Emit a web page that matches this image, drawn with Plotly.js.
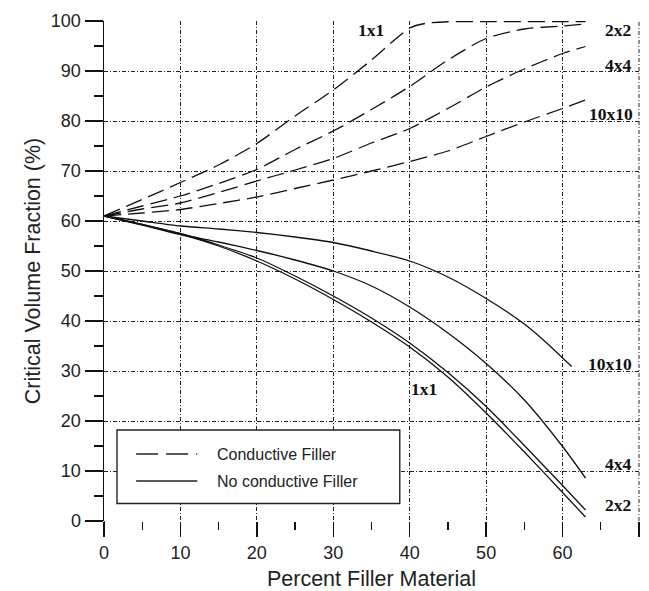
<!DOCTYPE html>
<html>
<head>
<meta charset="utf-8">
<script src="https://cdn.plot.ly/plotly-3.0.1.min.js"></script>
<style>html,body{margin:0;padding:0;background:#fff;}#chart{width:649px;height:591px;}</style>
</head>
<body>
<div id="chart"></div>
<script>
// Conductive filler (dashed)
const xCond1 = [0, 5, 10, 15, 20, 25, 30, 35, 38, 40, 42, 45, 50, 55, 60, 63];
const cond1x1 = [61, 64.3, 67.7, 71.2, 75.5, 81, 86.2, 92.2, 96.2, 98.6, 99.5, 99.85, 99.9, 99.9, 99.9, 99.9];
const xCond = [0, 5, 10, 15, 20, 25, 30, 35, 40, 45, 50, 55, 60, 63];
const cond2x2 = [61, 63, 65, 67.5, 70.3, 74.3, 78, 82.3, 86.9, 92.2, 96.5, 98.4, 99, 99.4];
const cond4x4 = [61, 62.4, 63.6, 65.7, 68, 70.2, 72.5, 75.6, 78.5, 82.5, 86.8, 90.4, 93.5, 94.9];
const cond10x10 = [61, 61.6, 62.3, 63.5, 64.8, 66.5, 68.2, 70, 71.9, 74, 76.9, 79.8, 82.5, 84.2];

// No conductive filler (solid)
const xNon = [0, 5, 10, 15, 20, 25, 30, 35, 40, 45, 50, 55, 60, 63];
const non1x1 = [61, 59.3, 57.4, 55, 52, 48.4, 44.3, 39.8, 34.8, 28.8, 21.6, 13.8, 5.7, 0.8];
const non2x2 = [61, 59.3, 57.5, 55.2, 52.6, 49, 45, 40.6, 35.6, 29.7, 22.9, 15.1, 7.1, 2.2];
const non4x4 = [61, 59.2, 57.3, 55.8, 54.1, 52.2, 50, 47, 42.8, 37.6, 31.5, 24.2, 14.9, 8.6];
const xNon10 = [0, 5, 10, 15, 20, 25, 30, 35, 40, 45, 50, 55, 58, 60, 61.2];
const non10x10 = [61, 60, 59, 58.4, 57.7, 56.8, 55.7, 54, 52, 48.8, 44.5, 39.4, 35.5, 32.6, 30.9];

// Curve labels
const labelText = ["1x1", "2x2", "4x4", "10x10", "1x1", "10x10", "4x4", "2x2"];
const labelX = [34.9, 67.3, 67.3, 66.3, 41.9, 66.2, 67.3, 67.3];
const labelY = [98.2, 98.2, 91.3, 81.5, 26.4, 31.5, 11.5, 3.2];

const legendNames = ["Conductive Filler", "No conductive Filler"];

const dashStyle = '17px,7px';
const lw = 1.3;
function tr(x, y, dash) {
  return {x: x, y: y, mode: 'lines', type: 'scatter', showlegend: false,
    line: {color: '#111', width: lw, dash: dash, shape: 'spline', smoothing: 0.7}, hoverinfo: 'skip'};
}
const data = [
  tr(xCond1, cond1x1, dashStyle),
  tr(xCond, cond2x2, dashStyle),
  tr(xCond, cond4x4, dashStyle),
  tr(xCond, cond10x10, dashStyle),
  tr(xNon, non1x1, 'solid'),
  tr(xNon, non2x2, 'solid'),
  tr(xNon, non4x4, 'solid'),
  tr(xNon10, non10x10, 'solid')
];

const serifBold = {family: '"Liberation Serif", "DejaVu Serif", serif', size: 17.5, color: '#111'};
const annotations = labelText.map((t, i) => ({
  x: labelX[i], y: labelY[i], xref: 'x', yref: 'y', text: '<b>' + t + '</b>',
  showarrow: false, font: serifBold, xanchor: 'center', yanchor: 'middle'
}));
// legend texts
const legFont = {family: '"Liberation Sans", Arial, sans-serif', size: 16, color: '#222'};
annotations.push({x: 14.5, y: 13.4, xref: 'x', yref: 'y', text: legendNames[0], showarrow: false, font: legFont, xanchor: 'left', yanchor: 'middle'});
annotations.push({x: 14.5, y: 8.0, xref: 'x', yref: 'y', text: legendNames[1], showarrow: false, font: legFont, xanchor: 'left', yanchor: 'middle'});

const gridCol = '#222';
const shapes = [
  {type: 'rect', xref: 'x', yref: 'y', x0: 1.7, x1: 38.7, y0: 3.5, y1: 18.2, line: {color: '#222', width: 1.4}, fillcolor: '#fff', layer: 'above'},
  {type: 'line', xref: 'x', yref: 'y', x0: 4.2, x1: 12.2, y0: 13.4, y1: 13.4, line: {color: '#222', width: 1.4, dash: '22px,8px'}},
  {type: 'line', xref: 'x', yref: 'y', x0: 4.2, x1: 12.2, y0: 8.0, y1: 8.0, line: {color: '#222', width: 1.4}},
  {type: 'line', xref: 'x', yref: 'paper', x0: 0, x1: 0, y0: 0, y1: -0.03, line: {color: '#111', width: 1.5}},
  {type: 'line', xref: 'paper', yref: 'paper', x0: 1, x1: 1, y0: 0, y1: 1, layer: 'below', line: {color: gridCol, width: 1, dash: '4px,2px,1px,2px'}}
];

const layout = {
  width: 649, height: 591,
  margin: {l: 104, r: 10, t: 21, b: 70},
  paper_bgcolor: '#fff', plot_bgcolor: '#fff',
  font: {family: '"Liberation Sans", Arial, sans-serif', color: '#222', size: 18},
  xaxis: {
    range: [0, 70], dtick: 10, tick0: 0,
    showgrid: true, gridcolor: gridCol, gridwidth: 1, griddash: '4px,2px,1px,2px',
    zeroline: false, showline: false,
    ticks: 'outside', ticklen: 15, tickwidth: 1.4, tickcolor: '#111',
    minor: {dtick: 5, ticks: 'outside', ticklen: 8, tickwidth: 1.4, tickcolor: '#111', showgrid: false},
    tickfont: {size: 18, color: '#222'},
    title: {text: 'Percent Filler Material', font: {size: 21.5, color: '#222'}, standoff: 9}
  },
  yaxis: {
    range: [0, 100], dtick: 10, tick0: 0,
    showgrid: true, gridcolor: gridCol, gridwidth: 1, griddash: '4px,2px,1px,2px',
    zeroline: false, showline: true, linecolor: '#111', linewidth: 1.5,
    ticks: 'outside', ticklen: 18, tickwidth: 1.4, tickcolor: '#111',
    minor: {dtick: 5, ticks: 'outside', ticklen: 9, tickwidth: 1.4, tickcolor: '#111', showgrid: false},
    tickfont: {size: 18, color: '#222'},
    title: {text: 'Critical Volume Fraction (%)', font: {size: 21.5, color: '#222'}, standoff: 4}
  },
  showlegend: false,
  annotations: annotations,
  shapes: shapes
};
Plotly.newPlot('chart', data, layout, {staticPlot: true, displayModeBar: false});
</script>
</body>
</html>
